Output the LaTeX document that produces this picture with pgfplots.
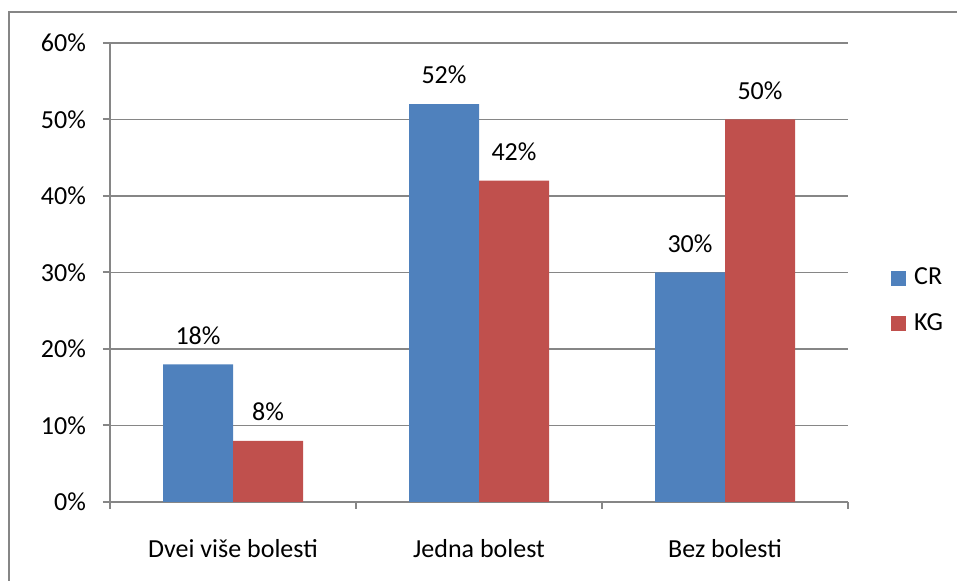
\documentclass[border=0pt]{standalone}
\usepackage{fontspec}
\setmainfont{Carlito}
\usepackage{pgfplots}
\pgfplotsset{compat=1.18}
\definecolor{crblue}{RGB}{79,129,189}
\definecolor{kgred}{RGB}{192,80,77}
\definecolor{linegray}{RGB}{134,134,134}
\begin{document}
\begin{tikzpicture}
\useasboundingbox (0pt,0pt) rectangle (478.5pt,290.5pt);
\begin{scope}
  \clip (0pt,0pt) rectangle (478.5pt,290.5pt);
  \draw[linegray, line width=1pt] (4.5pt,284.5pt) rectangle (495pt,-15pt);
\end{scope}
\begin{axis}[
  at={(55pt,39.5pt)}, anchor=south west, scale only axis,
  width=369pt, height=229.5pt,
  ybar=0pt, bar width=35pt,
  ymin=0, ymax=60, ytick={0,10,...,60},
  yticklabel={\pgfmathprintnumber{\tick}\%},
  xmin=-0.5, xmax=2.5,
  xtick={-0.5,0.5,1.5,2.5}, xticklabels={},
  extra x ticks={0,1,2},
  extra x tick labels={Dvei više bolesti, Jedna bolest, Bez bolesti},
  extra x tick style={major tick length=0pt, grid=none},
  axis x line*=bottom, axis y line*=left,
  axis line style={linegray, line width=1pt},
  ymajorgrids, major grid style={linegray, line width=0.75pt},
  tick style={linegray, line width=1pt},
  tick align=outside, major tick length=3.5pt,
  ticklabel style={font=\fontsize{13}{15}\selectfont},
  /pgf/number format/assume math mode=true,
  xticklabel style={yshift=-15pt},
  yticklabel style={xshift=-5pt},
  nodes near coords={\pgfmathprintnumber{\pgfplotspointmeta}\%},
  every node near coord/.append style={font=\fontsize{13}{15}\selectfont, yshift=6.5pt, black},
  legend style={draw=none, at={(1.058,0.438)}, anchor=west, inner sep=0pt,
    font=\fontsize{13}{15}\selectfont, row sep=9pt},
  legend image code/.code={\fill[#1] (0pt,-3.75pt) rectangle (7.5pt,3.75pt);
    \path (9.5pt,0pt);},
  legend cell align=left,
]
\addplot[fill=crblue, draw=none] coordinates {(0,18) (1,52) (2,30)};
\addplot[fill=kgred, draw=none] coordinates {(0,8) (1,42) (2,50)};
\legend{CR, KG}
\end{axis}
\end{tikzpicture}
\end{document}
